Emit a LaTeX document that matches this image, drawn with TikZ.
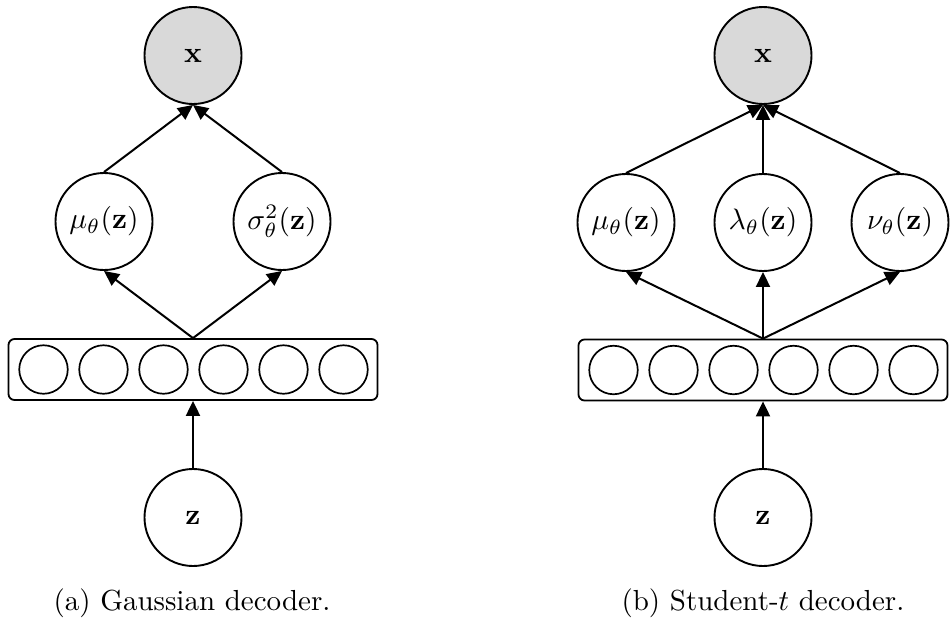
\documentclass[tikz,border=0pt]{standalone}
\usepackage{graphicx}
\usetikzlibrary{arrows.meta}
\definecolor{obsgray}{HTML}{D9D9D9}
\newcommand{\mlabel}[1]{\scalebox{2.95}{$#1$}}
\newcommand{\caplabel}[1]{\scalebox{2.9}{#1}}
\begin{document}
\begin{tikzpicture}[x=1pt,y=-1pt,
  var/.style={circle,draw,line width=1.9pt,minimum size=97pt,inner sep=0pt},
  obs/.style={var,fill=obsgray},
  unit/.style={circle,draw,line width=1.7pt,minimum size=48.5pt,inner sep=0pt},
  layer/.style={draw,rounded corners=6pt,line width=1.8pt,minimum width=369pt,minimum height=61pt,inner sep=0pt},
  edge/.style={line width=2pt,-{Triangle[length=15pt,width=14pt]}},
  captext/.style={anchor=base,inner sep=0pt}]
\useasboundingbox (0,0) rectangle (950,619);

% ---- (a) Gaussian decoder ----
\node[obs] (ax) at (193,55.5) {\mlabel{\mathbf{x}}};
\node[var] (amu) at (104,221.5) {\mlabel{\mu_\theta(\mathbf{z})}};
\node[var] (asig) at (282,221.5) {\mlabel{\sigma^2_\theta(\mathbf{z})}};
\node[layer] (ah) at (193,369.5) {};
\foreach \i in {0,...,5}
  \node[unit] (ah\i) at (43.5+60*\i,369.5) {};
\node[var] (az) at (193,517.5) {\mlabel{\mathbf{z}}};
\draw[edge] (amu.north) -- (ax.south);
\draw[edge] (asig.north) -- (ax.south);
\draw[edge] (ah.north) -- (amu.south);
\draw[edge] (ah.north) -- (asig.south);
\draw[edge] (az.north) -- (ah.south);
\node[captext] (acap) at (192,610) {\caplabel{(a) Gaussian decoder.}};

% ---- (b) Student-t decoder ----
\node[obs] (bx) at (763,55.5) {\mlabel{\mathbf{x}}};
\node[var] (bmu) at (626,222.5) {\mlabel{\mu_\theta(\mathbf{z})}};
\node[var] (blam) at (763,222.5) {\mlabel{\lambda_\theta(\mathbf{z})}};
\node[var] (bnu) at (900,222.5) {\mlabel{\nu_\theta(\mathbf{z})}};
\node[layer] (bh) at (763,370) {};
\foreach \i in {0,...,5}
  \node[unit] (bh\i) at (613.5+60*\i,370) {};
\node[var] (bz) at (763,517.5) {\mlabel{\mathbf{z}}};
\draw[edge] (bmu.north) -- (bx.south);
\draw[edge] (blam.north) -- (bx.south);
\draw[edge] (bnu.north) -- (bx.south);
\draw[edge] (bh.north) -- (bmu.south);
\draw[edge] (bh.north) -- (blam.south);
\draw[edge] (bh.north) -- (bnu.south);
\draw[edge] (bz.north) -- (bh.south);
\node[captext] (bcap) at (763,610) {\caplabel{(b) Student-$t$ decoder.}};
\end{tikzpicture}
\end{document}
